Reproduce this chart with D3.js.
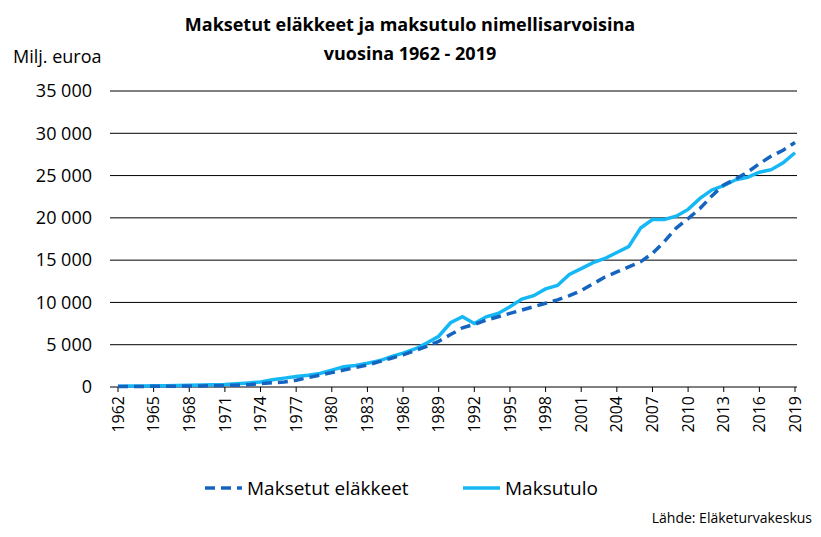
<!DOCTYPE html>
<html><head><meta charset="utf-8">
<script src="https://cdn.jsdelivr.net/npm/d3@7"></script>
<style>body{margin:0;background:#fff;font-family:"Open Sans",sans-serif}</style>
</head><body><div id="chart"></div>
<script>
// Data (milj. euroa)
const years = d3.range(1962, 2020);
const elakkeet = [50,60,70,80,90,100,110,130,150,180,220,270,400,500,600,800,1100,1400,1700,2000,2300,2600,3000,3400,3800,4300,4800,5400,6200,7000,7400,7900,8300,8700,9100,9500,9900,10300,10800,11400,12200,13000,13600,14200,14800,15800,17200,18800,19900,21100,22600,23900,24600,25400,26400,27300,28000,28900];
const maksutulo = [100,120,130,150,160,170,200,230,260,300,380,480,600,850,1050,1250,1400,1600,2000,2400,2550,2800,3100,3600,4000,4500,5200,6000,7600,8300,7500,8300,8700,9500,10400,10800,11600,12000,13300,14000,14700,15200,15900,16600,18800,19800,19800,20200,21000,22300,23300,23800,24500,24800,25400,25700,26500,27700];
const yTicks = d3.range(0, 35001, 5000);
const xTicks = d3.range(1962, 2020, 3);

const W = 821, H = 537;
const svg = d3.select('#chart').append('svg').attr('width', W).attr('height', H);

const x = d3.scaleLinear().domain([1962, 2019]).range([118, 795]);
const y = d3.scaleLinear().domain([0, 35000]).range([387, 91]);
const fmt = v => v === 0 ? '0' : d3.format(',')(v).replace(',', ' ');

svg.append('g').selectAll('line').data(yTicks).join('line')
    .attr('x1', 110).attr('x2', 797)
    .attr('y1', d => y(d)).attr('y2', d => y(d))
    .attr('stroke', '#000').attr('stroke-width', 1);

svg.append('g').selectAll('text').data(yTicks).join('text')
    .attr('x', 92).attr('y', d => y(d)).attr('dy', '0.35em')
    .attr('text-anchor', 'end').attr('font-size', 18).text(fmt);

svg.append('g').selectAll('line').data(xTicks).join('line')
    .attr('x1', d => x(d)).attr('x2', d => x(d))
    .attr('y1', 387).attr('y2', 392).attr('stroke', '#000');

svg.append('g').selectAll('text').data(xTicks).join('text')
    .attr('transform', d => `translate(${x(d)},396) rotate(-90)`)
    .attr('dy', '0.35em').attr('text-anchor', 'end')
    .attr('font-size', 16).text(d => d);

const line = d3.line().x((d, i) => x(years[i])).y(d => y(d));

svg.append('path').datum(maksutulo).attr('d', line)
    .attr('fill', 'none').attr('stroke', '#15b8f5').attr('stroke-width', 3.5);
svg.append('path').datum(elakkeet).attr('d', line)
    .attr('fill', 'none').attr('stroke', '#1565c0').attr('stroke-width', 3.5)
    .attr('stroke-dasharray', '10,6');

svg.append('text').attr('x', 410).attr('y', 31).attr('text-anchor', 'middle')
    .attr('font-size', 18).attr('font-weight', 'bold').text('Maksetut eläkkeet ja maksutulo nimellisarvoisina');
svg.append('text').attr('x', 410).attr('y', 60).attr('text-anchor', 'middle')
    .attr('font-size', 18).attr('font-weight', 'bold').text('vuosina 1962 - 2019');
svg.append('text').attr('x', 13).attr('y', 63).attr('font-size', 18).text('Milj. euroa');

// Legend
svg.append('line').attr('x1', 205).attr('x2', 242).attr('y1', 488).attr('y2', 488)
    .attr('stroke', '#1565c0').attr('stroke-width', 3.5).attr('stroke-dasharray', '10,6');
svg.append('text').attr('x', 247).attr('y', 488).attr('dy', '0.35em').attr('font-size', 19).text('Maksetut eläkkeet');
svg.append('line').attr('x1', 463).attr('x2', 500).attr('y1', 488).attr('y2', 488)
    .attr('stroke', '#15b8f5').attr('stroke-width', 3.5);
svg.append('text').attr('x', 505).attr('y', 488).attr('dy', '0.35em').attr('font-size', 19).text('Maksutulo');

svg.append('text').attr('x', 812).attr('y', 523).attr('text-anchor', 'end')
    .attr('font-size', 14).text('Lähde: Eläketurvakeskus');
</script></body></html>
